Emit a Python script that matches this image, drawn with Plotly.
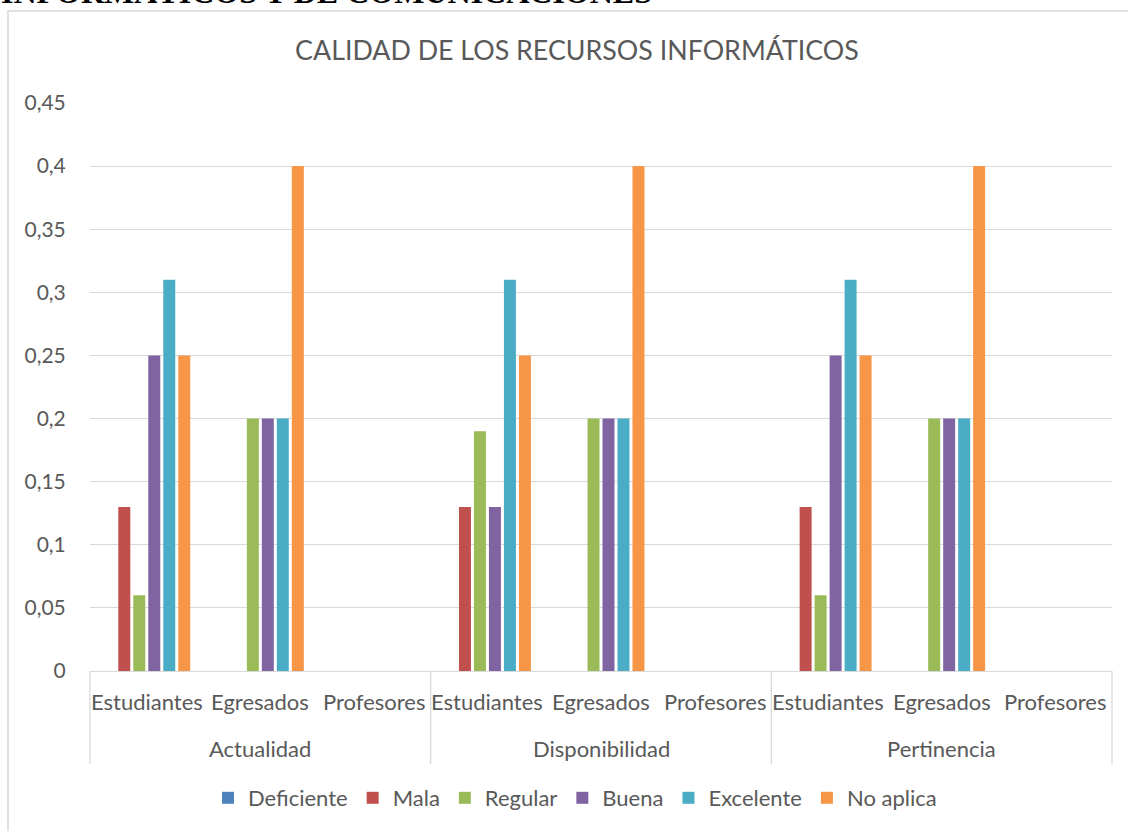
import plotly.graph_objects as go

# Categories: evaluated aspect (outer level) and respondent group (inner level)
aspects = ["Actualidad", "Disponibilidad", "Pertinencia"]
groups = ["Estudiantes", "Egresados", "Profesores"]

series_names = ["Deficiente", "Mala", "Regular", "Buena", "Excelente", "No aplica"]
series_colors = ["#4F81BD", "#C0504D", "#9BBB59", "#8064A2", "#4BACC6", "#F79646"]

# Proportions, ordered aspect by aspect: Estudiantes, Egresados, Profesores
deficiente = [0, 0, 0, 0, 0, 0, 0, 0, 0]
mala = [0.13, 0, 0, 0.13, 0, 0, 0.13, 0, 0]
regular = [0.06, 0.2, 0, 0.19, 0.2, 0, 0.06, 0.2, 0]
buena = [0.25, 0.2, 0, 0.13, 0.2, 0, 0.25, 0.2, 0]
excelente = [0.31, 0.2, 0, 0.31, 0.2, 0, 0.31, 0.2, 0]
no_aplica = [0.25, 0.4, 0, 0.25, 0.4, 0, 0.25, 0.4, 0]

y_tick_values = [0, 0.05, 0.1, 0.15, 0.2, 0.25, 0.3, 0.35, 0.4, 0.45]
y_tick_labels = ["0", "0,05", "0,1", "0,15", "0,2", "0,25", "0,3", "0,35", "0,4", "0,45"]

chart_title = "CALIDAD DE LOS RECURSOS INFORMÁTICOS"
page_heading = "INFORMÁTICOS Y DE COMUNICACIONES"

series_values = [deficiente, mala, regular, buena, excelente, no_aplica]

# Layout geometry (pixels)
W, H = 1128, 831
ML, MR, MT, MB = 90, 16, 103, 160
PW, PH = W - ML - MR, H - MT - MB


def px_x(x):
    return (x - ML) / PW


def px_y(y):
    return (H - MB - y) / PH


outer = [a for a in aspects for _ in groups]
inner = [g for _ in aspects for g in groups]
n_cats = len(inner)

TEXT = "#595959"
LINE = "#d9d9d9"
FONT = "Lato"

fig = go.Figure()
for name, color, vals in zip(series_names, series_colors, series_values):
    fig.add_trace(go.Bar(
        name=name,
        x=[outer, inner],
        y=vals,
        marker=dict(color=color, line=dict(width=0)),
    ))

# Two-level category labels under the axis, with group dividers
annotations = []
for i, label in enumerate(inner):
    annotations.append(dict(
        text=label, xref="paper", yref="paper",
        x=(i + 0.5) / n_cats, xanchor="center",
        y=px_y(701), yanchor="middle",
        showarrow=False,
        font=dict(family=FONT, size=22, color=TEXT),
    ))
for j, label in enumerate(aspects):
    annotations.append(dict(
        text=label, xref="paper", yref="paper",
        x=(j + 0.5) / len(aspects), xanchor="center",
        y=px_y(748), yanchor="middle",
        showarrow=False,
        font=dict(family=FONT, size=22, color=TEXT),
    ))
annotations.append(dict(
    text="<b>" + page_heading + "</b>",
    xref="paper", yref="paper",
    x=px_x(-1), xanchor="left",
    y=px_y(-8), yanchor="middle",
    showarrow=False,
    font=dict(family="Liberation Serif", size=32, color="black"),
))

shapes = []
for j in range(len(aspects) + 1):
    xd = j / len(aspects)
    shapes.append(dict(
        type="line", xref="paper", yref="paper",
        x0=xd, x1=xd, y0=px_y(671), y1=px_y(764),
        line=dict(color=LINE, width=1.3),
    ))
shapes.append(dict(
    type="rect", xref="paper", yref="paper",
    x0=px_x(8), x1=px_x(1145), y0=px_y(850), y1=px_y(11),
    line=dict(color=LINE, width=1.6),
    fillcolor="rgba(0,0,0,0)",
    layer="above",
))

fig.update_layout(
    width=W,
    height=H,
    margin=dict(l=ML, r=MR, t=MT, b=MB, pad=0, autoexpand=False),
    paper_bgcolor="white",
    plot_bgcolor="white",
    font=dict(family=FONT, color=TEXT, size=22),
    barmode="group",
    bargap=0.208,
    bargroupgap=0.2,
    title=dict(
        text=chart_title,
        font=dict(family=FONT, size=26.8, color=TEXT),
        xref="container", x=577 / W, xanchor="center",
        yref="container", y=1 - 51 / H, yanchor="middle",
    ),
    legend=dict(
        orientation="h",
        x=px_x(575), xanchor="center",
        y=px_y(798), yanchor="middle",
        font=dict(family=FONT, size=22, color=TEXT),
        itemwidth=30,
        traceorder="normal",
        bgcolor="rgba(0,0,0,0)",
    ),
    xaxis=dict(
        type="multicategory",
        automargin=False,
        showticklabels=False,
        showdividers=False,
        showline=True,
        linecolor=LINE,
        linewidth=1.3,
        showgrid=False,
        zeroline=False,
    ),
    yaxis=dict(
        automargin=False,
        range=[0, 0.45],
        tickvals=y_tick_values,
        ticktext=y_tick_labels,
        showgrid=True,
        gridcolor=LINE,
        gridwidth=1.3,
        zeroline=False,
        showline=False,
        ticks="outside",
        ticklen=19,
        tickcolor="rgba(0,0,0,0)",
        tickfont=dict(family=FONT, size=21, color=TEXT),
    ),
    shapes=shapes,
    annotations=annotations,
)

fig.write_html("out.html")
